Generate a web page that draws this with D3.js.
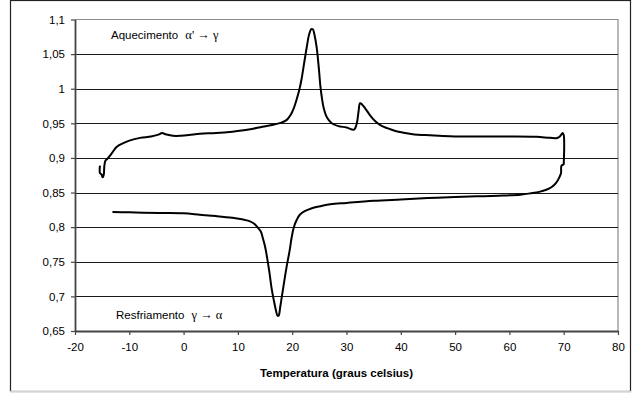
<!DOCTYPE html>
<html>
<head>
<meta charset="utf-8">
<script src="https://cdn.jsdelivr.net/npm/d3@7"></script>
<style>
  html, body { margin: 0; padding: 0; background: #fff; }
  svg { display: block; }
  text { font-family: "Liberation Sans", Arial, sans-serif; }
</style>
</head>
<body>
<svg id="chart" width="637" height="393"></svg>
<script>
// ---- data ----
const xTicks = [-20, -10, 0, 10, 20, 30, 40, 50, 60, 70, 80];
const yTicks = [0.65, 0.7, 0.75, 0.8, 0.85, 0.9, 0.95, 1.0, 1.05, 1.1];
const xTitle = "Temperatura (graus celsius)";
const labelHeat = ["Aquecimento ", "\u03B1' \u2192 \u03B3"];
const labelCool = ["Resfriamento ", "\u03B3 \u2192 \u03B1"];

// heating curve: [temperature, value]
const heating = [
  [-15.4, 0.889], [-15.45, 0.884], [-15.4, 0.878], [-15.1, 0.876], [-14.9, 0.872],
  [-14.7, 0.876], [-14.6, 0.888], [-14.4, 0.896], [-14.0, 0.899], [-13.3, 0.906],
  [-12.3, 0.916], [-11.2, 0.921], [-10.0, 0.925], [-8.0, 0.929], [-6.0, 0.931],
  [-4.5, 0.934], [-4.0, 0.936], [-3.2, 0.934], [-2.0, 0.932], [-0.5, 0.932],
  [1.0, 0.933], [3.0, 0.935], [6.0, 0.936], [9.0, 0.938], [12.0, 0.941],
  [14.5, 0.945], [16.5, 0.948], [18.0, 0.951], [19.0, 0.955], [19.7, 0.962],
  [20.3, 0.972], [20.8, 0.984], [21.3, 0.998], [21.7, 1.013], [22.2, 1.037],
  [22.7, 1.061], [23.1, 1.078], [23.5, 1.086], [23.8, 1.086], [24.1, 1.078],
  [24.5, 1.060], [24.9, 1.030], [25.2, 1.003], [25.5, 0.985], [25.8, 0.972],
  [26.2, 0.962], [26.7, 0.955], [27.5, 0.949], [28.5, 0.946], [30.0, 0.944],
  [31.4, 0.941], [31.9, 0.950], [32.2, 0.966], [32.5, 0.979], [32.9, 0.977],
  [33.5, 0.971], [34.3, 0.962], [35.3, 0.953], [36.3, 0.947], [37.5, 0.943],
  [39.0, 0.939], [40.5, 0.9365], [42.5, 0.934], [44.5, 0.933], [47.0, 0.932],
  [50.0, 0.931], [55.0, 0.931], [60.0, 0.931], [65.0, 0.9305], [67.5, 0.929],
  [68.8, 0.9288], [69.4, 0.932], [69.8, 0.936], [70.0, 0.933], [70.0, 0.890]
];

// cooling curve: [temperature, value]
const cooling = [
  [70.0, 0.890], [69.6, 0.889], [69.5, 0.878], [69.2, 0.872], [68.6, 0.864],
  [67.8, 0.858], [66.8, 0.854], [65.5, 0.851], [64.0, 0.849], [62.0, 0.847],
  [58.0, 0.8455], [54.0, 0.8445], [50.0, 0.8435], [45.0, 0.842], [40.0, 0.840],
  [35.0, 0.838], [30.0, 0.835], [27.0, 0.833], [25.0, 0.830], [23.5, 0.827],
  [22.3, 0.823], [21.4, 0.818], [20.8, 0.810], [20.3, 0.800], [19.9, 0.785],
  [19.5, 0.765], [19.0, 0.744], [18.5, 0.720], [18.1, 0.700], [17.8, 0.685],
  [17.5, 0.672], [17.3, 0.672], [17.0, 0.680], [16.6, 0.695], [16.2, 0.712],
  [15.8, 0.735], [15.4, 0.755], [15.0, 0.772], [14.6, 0.784], [14.2, 0.794],
  [13.6, 0.800], [13.0, 0.805], [12.0, 0.809], [11.0, 0.811], [9.0, 0.8135],
  [6.0, 0.816], [3.0, 0.818], [0.0, 0.820], [-4.0, 0.8205], [-7.5, 0.821],
  [-10.0, 0.8215], [-13.1, 0.822]
];

// ---- layout ----
const svg = d3.select("#chart");
const L = 75, R = 618, T = 19.5, B = 331;
const x = d3.scaleLinear().domain([-20, 80]).range([L, R]);
const y = d3.scaleLinear().domain([0.65, 1.1]).range([B, T]);
const loc = d3.formatLocale({decimal: ",", thousands: ".", grouping: [3], currency: ["", ""]});
const fmt = loc.format("~g");

// outer frame
svg.append("rect").attr("x", 10.5).attr("y", 0.5).attr("width", 620).attr("height", 391)
  .attr("fill", "#fff").attr("stroke", "#222").attr("stroke-width", 1.2);
svg.append("line").attr("x1", 10).attr("x2", 631).attr("y1", 391.5).attr("y2", 391.5)
  .attr("stroke", "#d4d4d4").attr("stroke-width", 1.5);

// plot border (top/right)
svg.append("path").attr("d", `M${L},${T}H${R}V${B}`)
  .attr("fill", "none").attr("stroke", "#8a8a8a").attr("stroke-width", 1.2);

// gridlines
svg.append("g").selectAll("line").data(yTicks.filter(v => v > 0.66 && v < 1.09)).join("line")
  .attr("x1", L).attr("x2", R)
  .attr("y1", d => Math.round(y(d)) + 0.5).attr("y2", d => Math.round(y(d)) + 0.5)
  .attr("stroke", "#1a1a1a").attr("stroke-width", 1.1);

// axes
const xAxis = svg.append("g").attr("transform", `translate(0,${B})`)
  .call(d3.axisBottom(x).tickValues(xTicks).tickSize(4).tickSizeOuter(0).tickPadding(8).tickFormat(d => d));
const yAxis = svg.append("g").attr("transform", `translate(${L},0)`)
  .call(d3.axisLeft(y).tickValues(yTicks).tickSize(4).tickSizeOuter(0).tickPadding(6).tickFormat(fmt));
[xAxis, yAxis].forEach(g => {
  g.select(".domain").attr("stroke", "#444").attr("stroke-width", 1.8);
  g.selectAll(".tick line").attr("stroke", "#444").attr("stroke-width", 1.2);
  g.selectAll(".tick text").attr("fill", "#000").style("font-size", "11.5px")
    .style("font-family", "'Liberation Sans', Arial, sans-serif");
});

// x title
svg.append("text").attr("x", (L + R) / 2 - 10).attr("y", 377).attr("text-anchor", "middle")
  .style("font-size", "11.5px").style("font-weight", "bold").text(xTitle);

// curves
const line = d3.line().x(d => x(d[0])).y(d => y(d[1])).curve(d3.curveCatmullRom.alpha(0.5));
[heating, cooling].forEach(s => {
  svg.append("path").attr("d", line(s)).attr("fill", "none")
    .attr("stroke", "#000").attr("stroke-width", 2).attr("stroke-linejoin", "round");
});

// annotations
function annot(parts, px, py) {
  const t = svg.append("text").attr("x", px).attr("y", py).style("font-size", "11.5px");
  t.append("tspan").text(parts[0]);
  t.append("tspan").style("font-family", "'Liberation Serif', 'Times New Roman', serif")
    .style("font-size", "12.5px").attr("dx", 4).text(parts[1]);
}
annot(labelHeat, 111, 39);
annot(labelCool, 116, 319);
</script>
</body>
</html>
